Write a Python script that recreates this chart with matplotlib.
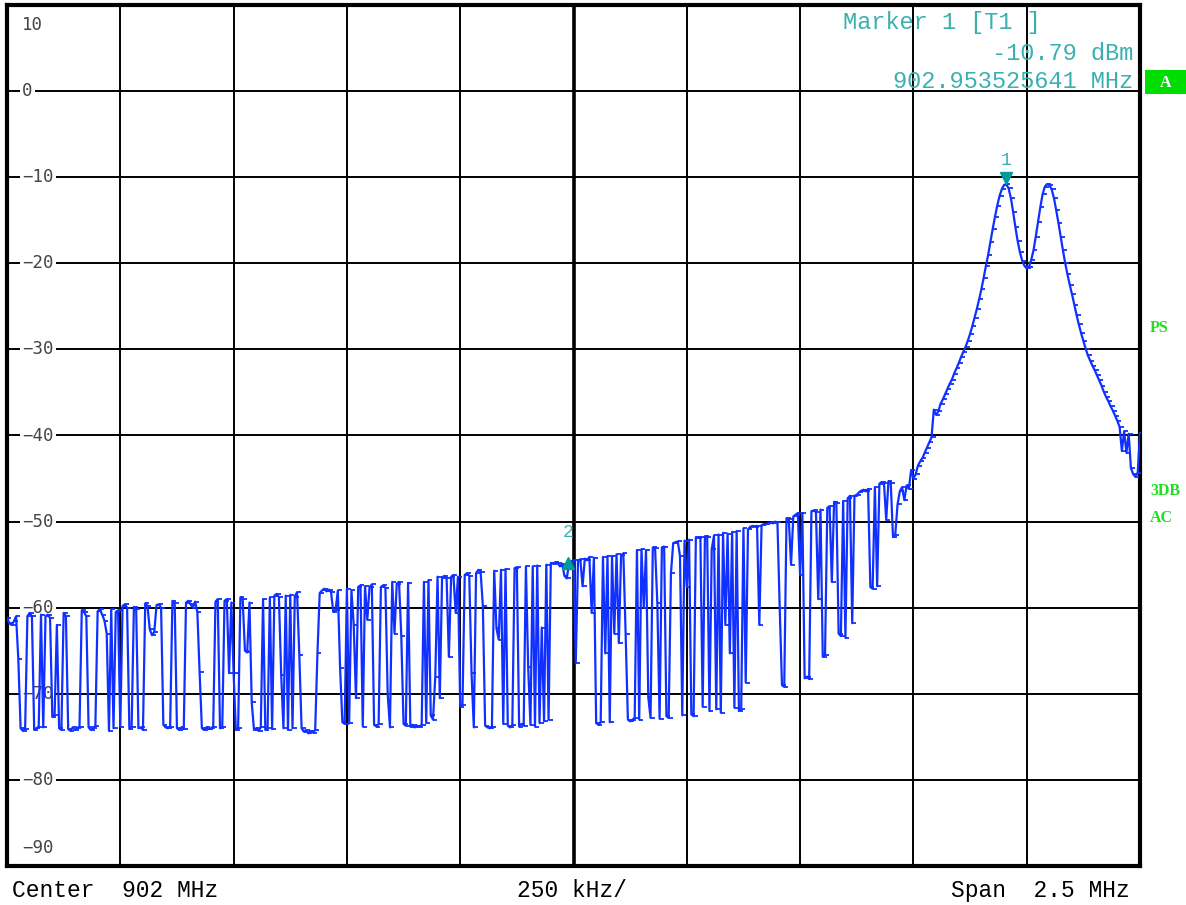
import numpy as np
import matplotlib
matplotlib.use('Agg')
import matplotlib.pyplot as plt
from matplotlib import transforms
from matplotlib.patches import Rectangle

#-----------------------------------------------------------------------------------------------------------
# Data

center_mhz = 902.0
span_mhz = 2.5
n_points = 501

ref_top = 10      # dBm at top grid line
ref_bottom = -90  # dBm at bottom grid line
y_ticks = [10, 0, -10, -20, -30, -40, -50, -60, -70, -80, -90]

# trace levels in dBm, one value per sweep point (left to right)
levels = [
    -61.2, -61.8, -62.0, -61.6, -61.0, -66.0, -74.0, -74.3, -74.1, -61.0,
    -60.6, -61.0, -74.2, -74.0, -73.8, -60.8, -73.9, -61.0, -60.8, -61.2,
    -72.7, -72.5, -62.0, -74.0, -74.2, -60.6, -61.0, -74.1, -74.3, -73.9,
    -74.2, -74.0, -73.8, -60.3, -60.5, -61.0, -73.9, -74.2, -74.0, -73.7,
    -60.4, -60.2, -60.8, -61.5, -63.0, -74.3, -60.2, -74.0, -60.5, -60.3,
    -73.8, -59.8, -59.6, -60.0, -74.1, -73.8, -59.9, -60.2, -74.0, -73.9,
    -74.2, -59.5, -59.8, -62.5, -63.2, -62.8, -59.7, -59.6, -60.0, -73.6,
    -73.9, -74.0, -73.8, -59.2, -59.5, -74.0, -74.2, -73.9, -74.1, -59.4,
    -59.2, -59.6, -60.0, -59.3, -60.5, -67.5, -74.0, -74.2, -73.9, -74.1,
    -74.0, -73.8, -59.3, -59.0, -74.0, -73.9, -59.2, -59.0, -67.6, -59.4,
    -67.6, -74.2, -74.0, -58.8, -59.0, -65.0, -65.2, -59.4, -71.0, -74.2,
    -74.0, -74.3, -73.9, -59.0, -74.2, -74.0, -58.8, -74.1, -58.6, -58.4,
    -58.8, -67.8, -74.0, -58.6, -74.2, -58.5, -74.0, -58.7, -58.2, -65.5,
    -74.0, -74.4, -74.2, -74.6, -74.3, -74.5, -74.2, -65.3, -58.3, -58.0,
    -57.8, -58.1, -57.9, -58.2, -60.5, -60.3, -58.0, -67.0, -73.3, -73.5,
    -57.8, -73.4, -58.0, -62.0, -70.5, -57.6, -57.4, -73.8, -57.5, -61.4,
    -57.6, -57.3, -73.6, -73.8, -73.5, -57.6, -57.4, -57.7, -70.0, -73.9,
    -57.0, -63.0, -57.2, -57.0, -63.3, -73.5, -73.7, -57.1, -73.8, -73.6,
    -73.9, -73.7, -73.8, -73.6, -57.0, -73.4, -56.8, -72.5, -73.0, -68.0,
    -56.4, -70.5, -56.5, -56.3, -56.6, -65.7, -56.4, -56.2, -60.6, -56.4,
    -71.5, -71.3, -56.2, -56.0, -56.3, -67.6, -73.9, -56.0, -55.6, -55.8,
    -59.8, -73.7, -73.9, -74.0, -73.8, -55.7, -62.4, -63.7, -55.6, -73.5,
    -55.5, -73.7, -73.9, -73.6, -55.4, -55.3, -73.8, -73.5, -73.7, -55.2,
    -66.9, -73.6, -55.2, -73.8, -55.1, -73.4, -62.3, -73.2, -55.0, -73.0,
    -54.8, -54.9, -54.7, -54.8, -55.2, -54.9, -56.3, -56.6, -55.0, -54.6,
    -54.5, -66.4, -54.5, -54.4, -57.5, -54.3, -54.5, -54.1, -60.6, -54.2,
    -73.4, -73.6, -73.3, -54.1, -65.3, -54.0, -73.3, -54.0, -63.0, -53.8,
    -64.1, -53.9, -53.7, -63.0, -73.0, -73.2, -73.0, -72.8, -53.3, -73.0,
    -53.2, -60.0, -53.3, -70.4, -72.8, -53.0, -53.1, -59.5, -72.9, -53.0,
    -52.9, -72.6, -72.8, -56.0, -52.5, -52.4, -52.3, -54.0, -72.5, -52.2,
    -57.6, -52.1, -72.4, -72.6, -51.8, -51.9, -51.8, -71.5, -51.7, -51.8,
    -72.0, -53.2, -51.6, -71.8, -51.5, -72.2, -51.3, -62.0, -51.4, -65.3,
    -51.2, -71.6, -51.1, -72.0, -71.8, -50.8, -68.7, -50.9, -50.6, -50.5,
    -50.6, -50.5, -62.0, -50.4, -50.3, -50.3, -50.2, -50.1, -50.2, -50.0,
    -50.1, -60.0, -69.0, -69.2, -49.6, -49.7, -55.0, -49.4, -49.2, -49.0,
    -56.2, -49.0, -68.2, -68.0, -68.3, -48.8, -48.7, -48.9, -59.0, -48.6,
    -65.7, -65.5, -48.4, -48.2, -57.0, -47.7, -47.8, -63.0, -63.3, -47.6,
    -63.5, -47.3, -47.0, -61.8, -47.0, -46.9, -46.6, -46.4, -46.3, -46.5,
    -46.2, -57.6, -57.8, -46.0, -57.5, -45.6, -45.4, -45.5, -49.8, -45.3,
    -45.5, -51.8, -51.5, -48.0, -46.5, -46.0, -47.5, -45.8, -46.2, -44.0,
    -45.0, -44.5, -43.5, -43.0, -42.6, -42.0, -41.4, -40.8, -40.2, -37.0,
    -37.6, -37.2, -36.3, -35.8, -35.2, -34.6, -34.0, -33.5, -32.8, -32.2,
    -31.6, -30.9, -30.3, -29.7, -29.0, -28.2, -27.3, -26.3, -25.3, -24.2,
    -23.0, -21.7, -20.3, -19.0, -17.5, -16.0, -14.6, -13.3, -12.2, -11.4,
    -10.9, -10.8, -11.3, -12.4, -14.0, -15.8, -17.4, -18.7, -19.7, -20.3,
    -20.6, -20.4, -19.6, -18.5, -16.9, -15.2, -13.5, -12.0, -11.1, -10.8,
    -10.9, -11.4, -12.4, -13.8, -15.3, -16.9, -18.5, -20.0, -21.3, -22.5,
    -23.6, -24.8, -26.0, -27.1, -28.1, -29.0, -29.9, -30.7, -31.3, -31.9,
    -32.4, -33.0, -33.6, -34.2, -34.9, -35.5, -36.0, -36.6, -37.1, -37.7,
    -38.3, -39.0, -41.8, -39.5, -42.0, -39.8, -43.8, -44.5, -44.8, -44.3,
    -39.7,
]

# markers: (frequency MHz, level dBm)
marker1_freq = 902.953525641
marker1_level = -10.79
marker2_freq = 901.988
marker2_level = -54.8

#-----------------------------------------------------------------------------------------------------------
# Colours

trace_blue = '#1030ff'
marker_teal = '#3cb0b0'
marker_dark = '#009a9a'
label_green = '#22dd22'
tick_grey = '#444444'

#-----------------------------------------------------------------------------------------------------------
# Plot

f_start = center_mhz - span_mhz / 2
f_stop = center_mhz + span_mhz / 2
freqs = np.linspace(f_start, f_stop, n_points)

fig = plt.figure(figsize=(11.86, 9.05), dpi=100)
ax = fig.add_axes([7 / 1186, 39 / 905, 1133 / 1186, 861 / 905])
ax.set_xlim(f_start, f_stop)
ax.set_ylim(ref_bottom, ref_top)
ax.set_xticks([])
ax.set_yticks([])
for s in ax.spines.values():
    s.set_linewidth(3)
    s.set_color('black')

# grid
div = span_mhz / 10
for k in range(1, 10):
    lw = 2.6 if k == 5 else 1.4
    ax.axvline(f_start + k * div, color='black', lw=lw, zorder=1)
for yv in y_ticks[1:-1]:
    ax.axhline(yv, color='black', lw=1.4, zorder=1)

# y labels sit inside the screen, on top of the grid lines
lbl_trans = transforms.blended_transform_factory(ax.transAxes, ax.transData)
for yv in y_ticks:
    ypos = yv
    if yv == ref_top:
        ypos = yv - 2.3
    if yv == ref_bottom:
        ypos = yv + 2.1
    txt = str(yv).replace('-', '\u2212')
    ax.text(0.0132, ypos, txt, transform=lbl_trans, ha='left', va='center',
            fontsize=12.5, family='DejaVu Sans Mono', color=tick_grey, zorder=2,
            bbox=dict(boxstyle='square,pad=0.12', fc='white', ec='none'))

# trace
ax.plot(freqs, levels, color=trace_blue, lw=1.6, zorder=3,
        marker=1, markersize=3.2, markeredgewidth=1.3, markeredgecolor=trace_blue)

# marker 1 (down triangle above the peak)
up_off = transforms.offset_copy(ax.transData, fig=fig, x=0, y=4, units='points')
ax.plot([marker1_freq], [marker1_level], marker='v', color=marker_dark,
        markersize=8, transform=up_off, zorder=4, clip_on=False)
ax.annotate('1', (marker1_freq, marker1_level), xytext=(0, 17), textcoords='offset points',
            ha='center', va='center', fontsize=13, family='Liberation Mono', color=marker_teal)

# marker 2 (up triangle on the trace)
ax.plot([marker2_freq], [marker2_level], marker='^', color=marker_dark,
        markersize=8, zorder=4)
ax.annotate('2', (marker2_freq, marker2_level), xytext=(0, 22), textcoords='offset points',
            ha='center', va='center', fontsize=13, family='Liberation Mono', color=marker_teal)

# marker readout
mono = 'Liberation Mono'
fig.text(843 / 1186, 1 - 22 / 905, 'Marker 1 [T1 ]', ha='left', va='center',
         fontsize=17, family=mono, color=marker_teal)
fig.text(1133 / 1186, 1 - 53 / 905, '%.2f dBm' % marker1_level, ha='right', va='center',
         fontsize=17, family=mono, color=marker_teal)
fig.text(1133 / 1186, 1 - 82 / 905, '%.9f MHz' % marker1_freq, ha='right', va='center',
         fontsize=17, family=mono, color=marker_teal)

# status labels on the right
fig.patches.append(Rectangle((1145 / 1186, 1 - 94 / 905), 41 / 1186, 24 / 905,
                             transform=fig.transFigure, fc='#00dd00', ec='none'))
fig.text(1166 / 1186, 1 - 83 / 905, 'A', ha='center', va='center', fontsize=11.5,
         family='Liberation Serif', weight='bold', color='white')
for txt, ypix in [('PS', 328), ('3DB', 491), ('AC', 518)]:
    fig.text(1150 / 1186, 1 - ypix / 905, txt, ha='left', va='center', fontsize=11.5,
             family='Liberation Serif', weight='bold', color=label_green)

# bottom annotations
fig.text(12 / 1186, 1 - 890 / 905, 'Center  %g MHz' % center_mhz, ha='left', va='center',
         fontsize=16.5, family=mono, color='black')
fig.text(572 / 1186, 1 - 890 / 905, '%g kHz/' % (div * 1000), ha='center', va='center',
         fontsize=16.5, family=mono, color='black')
fig.text(1130 / 1186, 1 - 890 / 905, 'Span  %g MHz' % span_mhz, ha='right', va='center',
         fontsize=16.5, family=mono, color='black')

fig.savefig('out.png', dpi=100)
